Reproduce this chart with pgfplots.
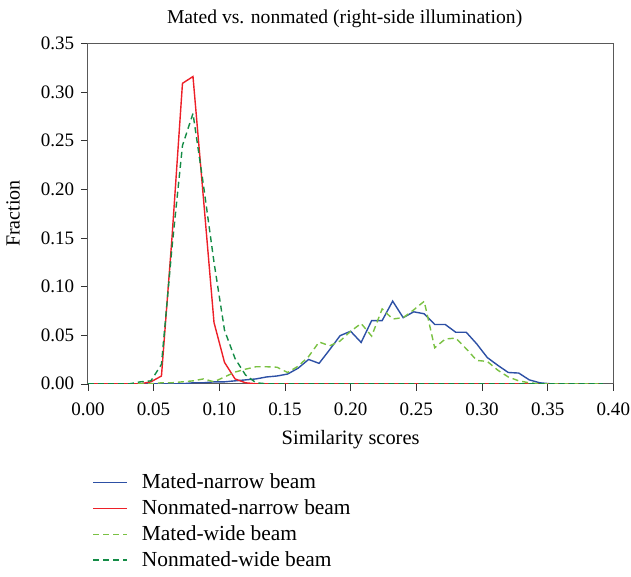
\documentclass[border=0pt]{standalone}
\usepackage{pgfplots}
\usepackage{pgfplotstable}
\pgfplotsset{compat=1.18}
\usepackage{fontspec}
\setmainfont{Liberation Serif}

\definecolor{matednarrow}{RGB}{45,80,165}
\definecolor{nonmatednarrow}{RGB}{237,32,40}
\definecolor{matedwide}{RGB}{122,193,67}
\definecolor{nonmatedwide}{RGB}{20,140,70}

% x = similarity score; mn/nn = mated/nonmated narrow beam; mw/nw = mated/nonmated wide beam
\pgfplotstableread{
x      mn      nn     mw      nw
0.000  0       0      0       0
0.008  0       0      0       0
0.016  0       0      0       0
0.024  0       0      0       0
0.032  0       0      0       0
0.040  0       0      0       0.002
0.048  0       0.002  0       0.003
0.056  0       0.008  0.001   0.020
0.064  0       0.150  0.001   0.140
0.072  0       0.309  0.002   0.245
0.080  0.001   0.316  0.003   0.278
0.088  0.001   0.190  0.005   0.204
0.096  0.002   0.063  0.002   0.125
0.104  0.002   0.022  0.007   0.055
0.112  0.003   0.005  0.012   0.026
0.120  0.004   0.001  0.015   0.009
0.128  0.005   0      0.0175  0.001
0.136  0.007   0      0.0175  0
0.144  0.008   0      0.017   0
0.152  0.010   0      0.0116  0
0.160  0.016   0      0.018   0
0.168  0.025   0      0.028   0
0.176  0.021   0      0.043   0
0.184  0.035   0      0.039   0
0.192  0.0495  0      0.044   0
0.200  0.054   0      0.054   0
0.208  0.0425  0      0.062   0
0.216  0.065   0      0.049   0
0.224  0.065   0      0.077   0
0.232  0.085   0      0.0666  0
0.240  0.068   0      0.068   0
0.248  0.074   0      0.076   0
0.256  0.072   0      0.0848  0
0.264  0.061   0      0.037   0
0.272  0.061   0      0.046   0
0.280  0.053   0      0.047   0
0.288  0.053   0      0.036   0
0.296  0.041   0      0.024   0
0.304  0.027   0      0.023   0
0.312  0.019   0      0.014   0
0.320  0.0116  0      0.007   0
0.328  0.011   0      0.003   0
0.336  0.004   0      0.001   0
0.344  0.001   0      0       0
0.352  0       0      0       0
0.360  0       0      0       0
0.368  0       0      0       0
0.376  0       0      0       0
0.384  0       0      0       0
0.392  0       0      0       0
}\scores

\begin{document}
\fontsize{9.5}{11.5}\selectfont
\begin{tikzpicture}
  \begin{axis}[
      scale only axis,
      width=262.5pt,
      height=170pt,
      xmin=0, xmax=0.4,
      ymin=0, ymax=0.35,
      xtick={0,0.05,0.1,0.15,0.2,0.25,0.3,0.35,0.4},
      ytick={0,0.05,0.1,0.15,0.2,0.25,0.3,0.35},
      /pgf/number format/assume math mode=true,
      /pgf/number format/fixed,
      /pgf/number format/fixed zerofill,
      /pgf/number format/precision=2,
      ticklabel style={font=\fontsize{9.5}{11.5}\selectfont},
      xticklabel style={inner sep=0.5pt, yshift=-5.3pt},
      tick align=outside,
      tick pos=left,
      major tick length=3.5pt,
      axis line style={black!65},
      tick style={black!80},
      title={Mated vs. nonmated (right-side illumination)},
      title style={font=\fontsize{9.8}{11.5}\selectfont, inner ysep=4.8pt,
        yshift=-3pt, xshift=-3pt},
      xlabel={Similarity scores},
      xlabel style={font=\fontsize{10.2}{12}\selectfont, yshift=-3.3pt},
      ylabel={Fraction},
      ylabel style={font=\fontsize{10}{12}\selectfont, yshift=4pt},
      legend style={draw=none, fill=none, at={(0,-0.239)}, anchor=north west,
        xshift=-1pt, font=\fontsize{10.7}{12.5}\selectfont,
        row sep=0.1pt, column sep=5pt},
      legend cell align=left,
      every axis plot/.append style={line width=0.7pt},
    ]
    \addplot[matednarrow] table[x=x, y=mn] {\scores};
    \addlegendentry{Mated-narrow beam}
    \addplot[nonmatednarrow] table[x=x, y=nn] {\scores};
    \addlegendentry{Nonmated-narrow beam}
    \addplot[matedwide, dash pattern=on 3pt off 2pt] table[x=x, y=mw] {\scores};
    \addlegendentry{Mated-wide beam}
    \addplot[nonmatedwide, dash pattern=on 3pt off 2pt] table[x=x, y=nw] {\scores};
    \addlegendentry{Nonmated-wide beam}
  \end{axis}
\end{tikzpicture}
\end{document}
